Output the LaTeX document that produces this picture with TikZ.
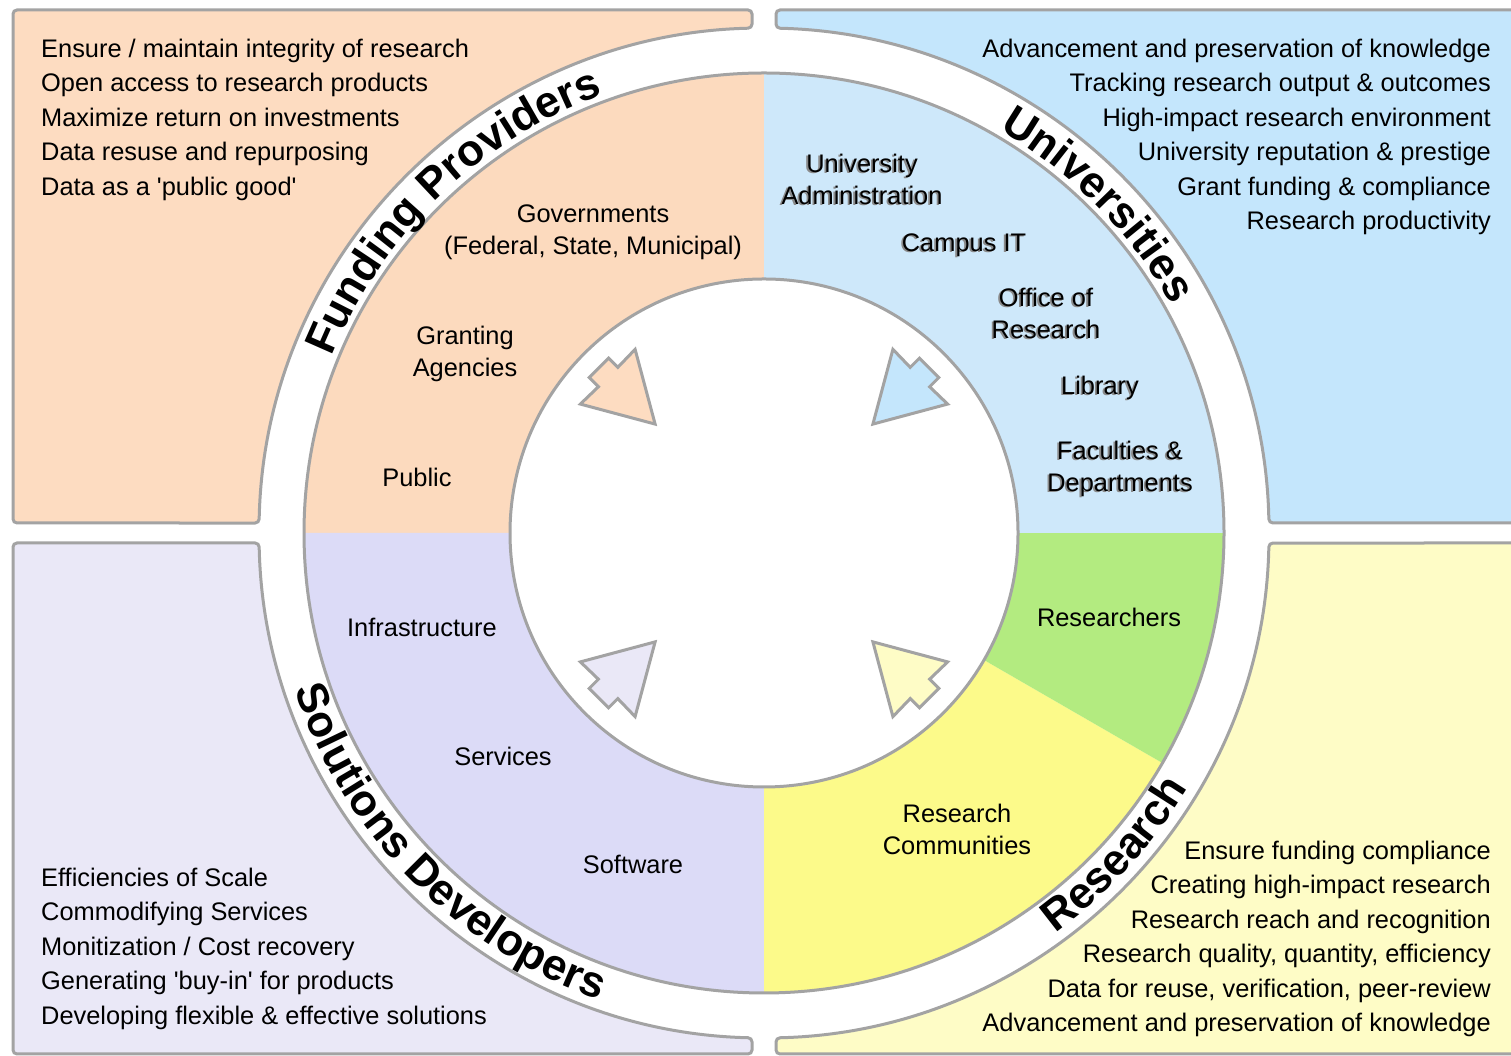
\documentclass[tikz,border=0pt]{standalone}
\usepackage{fontspec}
\setmainfont{Liberation Sans}[Ligatures=TeXOff]
\usetikzlibrary{decorations.text}
\definecolor{pbox}{HTML}{FDDCC1}
\definecolor{pring}{HTML}{FCDABE}
\definecolor{bbox}{HTML}{C4E6FC}
\definecolor{bring}{HTML}{CEE8FA}
\definecolor{lbox}{HTML}{EAE8F7}
\definecolor{lring}{HTML}{DCDBF7}
\definecolor{ybox}{HTML}{FEFCC6}
\definecolor{yring}{HTML}{FCFA8A}
\definecolor{gring}{HTML}{B3EB80}
\definecolor{edge}{HTML}{A3A3A3}
\definecolor{shadowc}{HTML}{8A8A8A}
\newcommand\lblfont{\fontsize{25.4}{32}\selectfont}
\newcommand\titlefont{\fontsize{44}{50}\selectfont\bfseries}
\newcommand\shadowlabel[4]{%
  \node[lbl, text=shadowc] (#3s) at (#1-1.8,#2-1.2) {#4};
  \node[lbl] (#3) at (#1,#2) {#4};}
\begin{document}
\begin{tikzpicture}[x=1pt,y=1pt,
  edgeline/.style={draw=edge, line width=3pt},
  boxshape/.style={edgeline, rounded corners=4pt},
  lst/.style={font=\lblfont, inner sep=0pt},
  lbl/.style={font=\lblfont, inner sep=0pt, align=center},
  arrowshape/.style={edgeline, line join=miter},
  titletext/.style={decorate, decoration={text along path, text align=center, text={|\titlefont|#1}}}
]
\useasboundingbox (0,0) rectangle (1511,1056);
\fill[white] (0,0) rectangle (1511,1056);

% outer quadrant boxes
\draw[boxshape, fill=pbox] (13,1046) -- (752,1046) -- (752,1027.86)
  arc[start angle=91.36, end angle=178.87, radius=505] -- (13,533) -- cycle;
\draw[boxshape, fill=bbox] (776,1046) -- (1530,1046) -- (1530,533) -- (1268.9,533)
  arc[start angle=1.135, end angle=88.64, radius=505] -- cycle;
\draw[boxshape, fill=lbox] (13,513) -- (259.1,513)
  arc[start angle=181.135, end angle=268.64, radius=505] -- (752,2) -- (13,2) -- cycle;
\draw[boxshape, fill=ybox] (776,2) -- (776,18.14)
  arc[start angle=271.36, end angle=358.865, radius=505] -- (1530,513) -- (1530,2) -- cycle;

\begin{scope}[shift={(764,523)}]
  % ring segments
  \fill[pring] (90:460) arc[start angle=90,end angle=180,radius=460] -- (180:254) arc[start angle=180,end angle=90,radius=254] -- cycle;
  \fill[lring] (180:460) arc[start angle=180,end angle=270,radius=460] -- (270:254) arc[start angle=270,end angle=180,radius=254] -- cycle;
  \fill[yring] (270:460) arc[start angle=270,end angle=330,radius=460] -- (330:254) arc[start angle=330,end angle=270,radius=254] -- cycle;
  \fill[gring] (330:460) arc[start angle=330,end angle=360,radius=460] -- (0:254) arc[start angle=360,end angle=330,radius=254] -- cycle;
  \fill[bring] (0:460) arc[start angle=0,end angle=90,radius=460] -- (90:254) arc[start angle=90,end angle=0,radius=254] -- cycle;
  \draw[edgeline] (0,0) circle[radius=460];
  \draw[edgeline, fill=white] (0,0) circle[radius=254];

  % arrows pointing to the centre
  \foreach \a/\c in {135/pbox, 45/bbox, 225/lbox, 315/ybox} {
    \draw[arrowshape, fill=\c, shift={(\a:221)}, rotate=\a+180]
      (67,0) -- (0,38.7) -- (0.5,13.7) -- (-12.5,13.7) -- (-12.5,-13.7) -- (0.5,-13.7) -- (0,-38.7) -- cycle;
  }

  % curved titles
  \path[titletext={Funding Providers}] (164:467) arc[start angle=164, end angle=104, radius=467];
  \path[titletext={Universities}] (74.5:467) arc[start angle=74.5, end angle=14.5, radius=467];
  \path[titletext={Solutions Developers}] (189.5:495) arc[start angle=189.5, end angle=259.5, radius=495];
  \path[titletext={Research}] (-67.5:495) arc[start angle=-67.5, end angle=-17.5, radius=495];
\end{scope}

% ring labels
\node[lbl] (gov) at (593,823.5) {Governments\\(Federal, State, Municipal)};
\node[lbl] (grant) at (465,702) {Granting\\Agencies};
\node[lbl] (public) at (417,579) {Public};
\shadowlabel{862}{877}{uadmin}{University\\Administration}
\shadowlabel{964}{811}{campus}{Campus IT}
\shadowlabel{1046}{743}{office}{Office of\\Research}
\shadowlabel{1100}{668}{library}{Library}
\shadowlabel{1120}{587}{faculty}{Faculties \&\\Departments}
\node[lbl] (researchers) at (1109,439) {Researchers};
\node[lbl] (communities) at (957,227) {Research\\Communities};
\node[lbl] (infra) at (422,429) {Infrastructure};
\node[lbl] (services) at (503,300) {Services};
\node[lbl] (software) at (633,192) {Software};

% lists
\foreach \t [count=\i] in {Ensure / maintain integrity of research, Open access to research products, Maximize return on investments, Data resuse and repurposing, Data as a 'public good'}
  \node[lst, anchor=base west] (fp\i) at (41,{998.5-34.5*(\i-1)}) {\t};
\foreach \t [count=\i] in {Advancement and preservation of knowledge, Tracking research output \& outcomes, High-impact research environment, University reputation \& prestige, Grant funding \& compliance, Research productivity}
  \node[lst, anchor=base east] (un\i) at (1491,{998.5-34.5*(\i-1)}) {\t};
\foreach \t [count=\i] in {Efficiencies of Scale, Commodifying Services, Monitization / Cost recovery, Generating 'buy-in' for products, Developing flexible \& effective solutions}
  \node[lst, anchor=base west] (sd\i) at (41,{169.5-34.5*(\i-1)}) {\t};
\foreach \t [count=\i] in {Ensure funding compliance, Creating high-impact research, Research reach and recognition, {Research quality, quantity, efficiency}, {Data for reuse, verification, peer-review}, Advancement and preservation of knowledge}
  \node[lst, anchor=base east] (rs\i) at (1491,{196.5-34.5*(\i-1)}) {\t};
\end{tikzpicture}
\end{document}
